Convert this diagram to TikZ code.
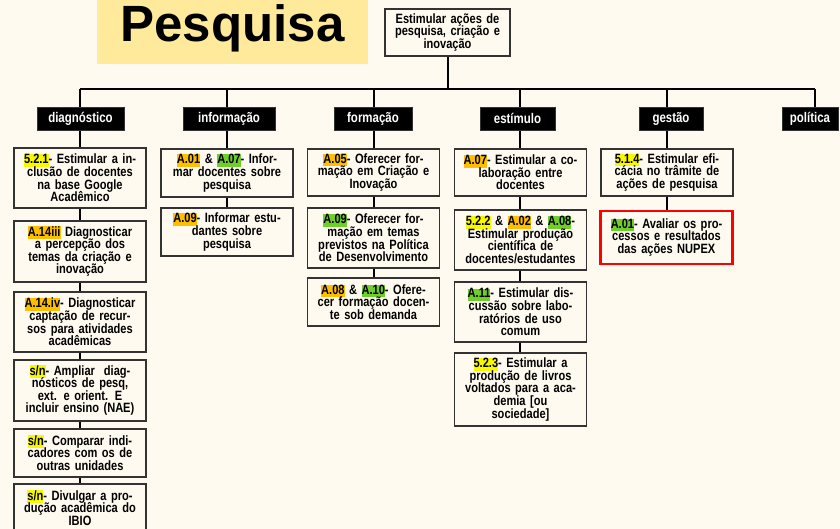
\documentclass[tikz,border=0pt]{standalone}
\usepackage{fontspec}
\usepackage{xcolor}
\setmainfont{Liberation Sans}
\newfontfamily\nar{Liberation Sans}[FakeStretch=0.82]
\usetikzlibrary{backgrounds}
\definecolor{bgc}{HTML}{FEFAF0}
\definecolor{titlebg}{HTML}{FFE99A}
\definecolor{hly}{HTML}{F8F800}
\definecolor{hlo}{HTML}{FFBF00}
\definecolor{hlg}{HTML}{6FCF2A}
\definecolor{bord}{HTML}{333333}
\newcommand\hlbox[2]{{\setlength\fboxsep{0pt}\colorbox{#1}{\vphantom{Ag}#2}}}
\newcommand\hy[1]{\hlbox{hly}{#1}}
\newcommand\ho[1]{\hlbox{hlo}{#1}}
\newcommand\hg[1]{\hlbox{hlg}{#1}}
\tikzset{
  item/.style={draw=bord, line width=1.1pt, fill=bgc, minimum width=132pt,
    text width=126pt, inner xsep=2pt, inner ysep=2pt, align=center,
    font=\nar\bfseries\fontsize{13.5}{12.6}\selectfont,
    execute at begin node={\lineskiplimit=-20pt}},
  cat/.style={fill=black, draw=bord, line width=0.8pt, text=white, inner sep=0pt,
    minimum height=23pt, font=\nar\bfseries\fontsize{14}{14}\selectfont},
  conn/.style={line width=2pt, black},
}
\begin{document}
\begin{tikzpicture}[x=1pt,y=-1pt]
\useasboundingbox (0,0) rectangle (840,529);
% title
\node[anchor=base, inner sep=0pt, font=\bfseries\fontsize{51}{51}\selectfont] (title) at (232.5,42) {Pesquisa};
% root
\node[item, minimum width=125pt, text width=119pt, minimum height=47pt] (root) at (447.5,32.5)
  {Estimular ações de\\pesquisa, criação e\\inovação};
% bus coordinates
\coordinate (bD) at (80,89);
\coordinate (bI) at (227,89);
\coordinate (bF) at (374,89);
\coordinate (bE) at (520,89);
\coordinate (bG) at (667,89);
\coordinate (bP) at (815,89);
% categories
\node[cat, minimum width=87pt] (cD) at (80.5,118.5) {diagnóstico};
\node[cat, minimum width=92pt] (cI) at (229,118.5) {informação};
\node[cat, minimum width=78pt] (cF) at (373,118.5) {formação};
\node[cat, minimum width=75pt] (cE) at (517.5,118.5) {estímulo};
\node[cat, minimum width=64pt] (cG) at (671,118.5) {gestão};
\node[cat, minimum width=56pt] (cP) at (810,118.5) {política};
% diagnóstico
\node[item, minimum height=60pt] (d1) at (80,178) {\hy{5.2.1}- Estimular a in-\\clusão de docentes\\na base Google\\Acadêmico};
\node[item, minimum height=61pt] (d2) at (80,251.5) {\ho{A.14iii} Diagnosticar\\a percepção dos\\temas da criação e\\inovação};
\node[item, minimum height=60pt] (d3) at (80,322) {\ho{A.14.iv}- Diagnosticar\\captação de recur-\\sos para atividades\\acadêmicas};
\node[item, minimum height=61pt] (d4) at (80,390.5) {\hy{s/n}- Ampliar\ \ diag-\\nósticos de pesq,\\ext. e orient. E\\incluir ensino (NAE)};
\node[item, minimum height=48pt] (d5) at (80,453) {\hy{s/n}- Comparar indi-\\cadores com os de\\outras unidades};
\node[item, minimum height=48pt] (d6) at (80,508) {\hy{s/n}- Divulgar a pro-\\dução acadêmica do\\IBIO};
% informação
\node[item, minimum height=48pt] (i1) at (227,173) {\ho{A.01} \& \hg{A.07}- Infor-\\mar docentes sobre\\pesquisa};
\node[item, minimum height=48pt] (i2) at (227,232) {\ho{A.09}- Informar estu-\\dantes sobre\\pesquisa};
% formação
\node[item, minimum height=47pt] (f1) at (373.5,172.5) {\ho{A.05}- Oferecer for-\\mação em Criação e\\Inovação};
\node[item, minimum height=60pt] (f2) at (373.5,238) {\hg{A.09}- Oferecer for-\\mação em temas\\previstos na Política\\de Desenvolvimento};
\node[item, minimum height=48pt] (f3) at (373.5,302) {\ho{A.08} \& \hg{A.10}- Ofere-\\cer formação docen-\\te sob demanda};
% estímulo
\node[item, minimum height=47pt] (e1) at (520.5,172.5) {\ho{A.07}- Estimular a co-\\laboração entre\\docentes};
\node[item, minimum height=60pt] (e2) at (520.5,240) {\hy{5.2.2} \& \ho{A.02} \& \hg{A.08}-\\Estimular produção\\científica de\\docentes/estudantes};
\node[item, minimum height=60pt] (e3) at (520.5,312) {\hg{A.11}- Estimular dis-\\cussão sobre labo-\\ratórios de uso\\comum};
\node[item, minimum height=73pt] (e4) at (520.5,389.5) {\hy{5.2.3}- Estimular a\\produção de livros\\voltados para a aca-\\demia [ou\\sociedade]};
% gestão
\node[item, minimum height=47pt] (g1) at (667,172.5) {\hy{5.1.4}- Estimular efi-\\cácia no trâmite de\\ações de pesquisa};
\node[item, draw=red, line width=2.6pt, minimum height=53pt] (g2) at (666.5,237.5) {\hg{A.01}- Avaliar os pro-\\cessos e resultados\\das ações NUPEX};
% background and connectors
\begin{scope}[on background layer]
\fill[bgc] (0,0) rectangle (840,529);
\fill[titlebg] (97,-10) rectangle (368,64);
\draw[conn] (root.south) -- (root.south |- bE);
\draw[conn] (bD) -- (bP);
\draw[conn] (bD) -- (d6.north -| bD);
\draw[conn] (bI) -- (i2.north -| bI);
\draw[conn] (bF) -- (f3.north -| bF);
\draw[conn] (bE) -- (e4.north -| bE);
\draw[conn] (bG) -- (g2.north -| bG);
\draw[conn] (bP) -- (cP.north -| bP);
\end{scope}
\end{tikzpicture}
\end{document}
